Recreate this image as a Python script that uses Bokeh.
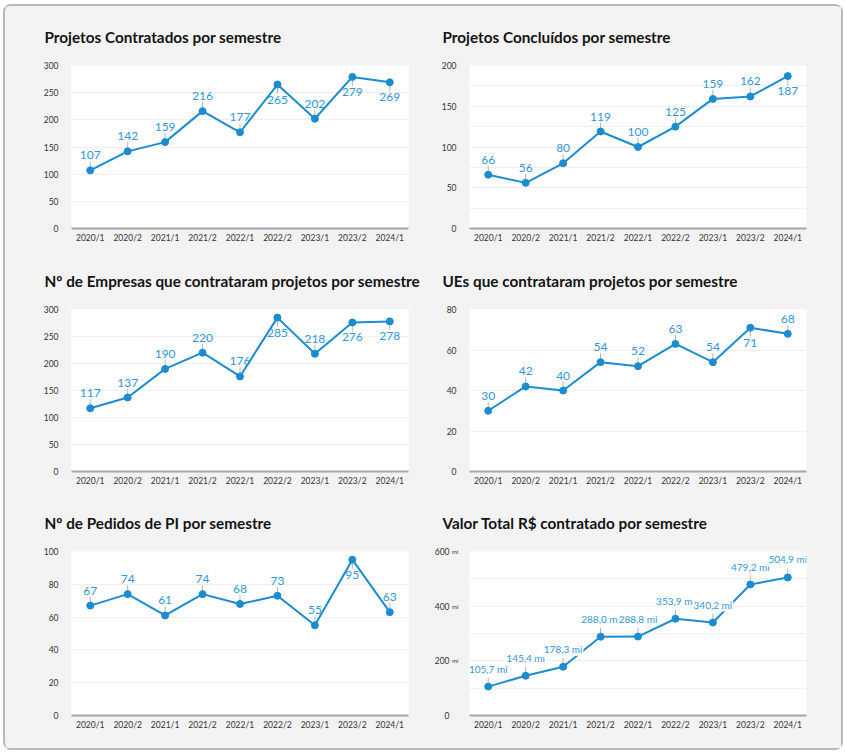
from bokeh.plotting import figure
from bokeh.layouts import column, row
from bokeh.models import Range1d, FactorRange, SingleIntervalTicker, LinearAxis, ColumnDataSource
from bokeh.core.properties import value
from bokeh.embed import file_html
from bokeh.resources import INLINE

# ---------------- data ----------------
semesters = ["2020/1", "2020/2", "2021/1", "2021/2", "2022/1", "2022/2", "2023/1", "2023/2", "2024/1"]
projetos_contratados = [107, 142, 159, 216, 177, 265, 202, 279, 269]
projetos_concluidos = [66, 56, 80, 119, 100, 125, 159, 162, 187]
empresas_contrataram = [117, 137, 190, 220, 176, 285, 218, 276, 278]
ues_contrataram = [30, 42, 40, 54, 52, 63, 54, 71, 68]
pedidos_pi = [67, 74, 61, 74, 68, 73, 55, 95, 63]
valor_total_mi = [105.7, 145.4, 178.3, 288.0, 288.8, 353.9, 340.2, 479.2, 504.9]

titles = [
    "Projetos Contratados por semestre",
    "Projetos Concluídos por semestre",
    "Nº de Empresas que contrataram projetos por semestre",
    "UEs que contrataram projetos por semestre",
    "Nº de Pedidos de PI por semestre",
    "Valor Total R$ contratado por semestre",
]

# ---------------- style ----------------
FONT = "Lato"
LINE_C = "#1a8ccf"
LABEL_C = "#3197d6"
BG = "#f3f3f3"

COLS = [dict(width=421, left=66, right=18), dict(width=415, left=43, right=35)]
ROWS = [dict(height=244, top=59, bottom=22), dict(height=240, top=58, bottom=19),
        dict(height=258, top=61, bottom=33)]


def make_chart(title, vals, labels, ymax, label_step, grid_step, below, ci, ri,
               lab_size="12px", lab_bg=None, lab_off=15, mi_axis=False):
    c, r = COLS[ci], ROWS[ri]
    p = figure(x_range=FactorRange(*semesters, range_padding=0), y_range=Range1d(0, ymax),
               width=c["width"], height=r["height"], output_backend="svg", toolbar_location=None,
               min_border_left=c["left"], min_border_right=c["right"],
               min_border_top=r["top"], min_border_bottom=r["bottom"],
               background_fill_color="white", border_fill_color=BG, outline_line_color=None)
    p.title.text = title
    p.title.text_font = FONT
    p.title.text_font_size = "15.3px"
    p.title.text_font_style = "bold"
    p.title.text_color = "#141414"
    p.title.align = "left"
    p.title.offset = -27
    p.title.standoff = 39

    frame_h = r["height"] - r["top"] - r["bottom"]
    upp = ymax / frame_h  # data units per pixel

    ys_lab_off = [lab_off if b else -lab_off for b in below]
    seg_y0 = [v - 3 * upp if b else v + 3 * upp for v, b in zip(vals, below)]
    seg_y1 = [v - 9 * upp if b else v + 9 * upp for v, b in zip(vals, below)]
    src = ColumnDataSource(dict(x=semesters, y=vals, lab=labels, yoff=ys_lab_off,
                                sy0=seg_y0, sy1=seg_y1))

    p.segment(x0="x", y0="sy0", x1="x", y1="sy1", source=src, line_color="#b5b5b5", line_width=1)
    p.line(x="x", y="y", source=src, line_color=LINE_C, line_width=2)
    p.scatter(x="x", y="y", source=src, size=7, fill_color=LINE_C, line_color=LINE_C)
    kw = {}
    if lab_bg:
        kw = dict(background_fill_color=lab_bg, padding=1)
    p.text(x="x", y="y", text="lab", source=src, y_offset="yoff", text_align="center",
           text_baseline="middle", text_color=LABEL_C, text_font=value(FONT),
           text_font_size=lab_size, **kw)

    p.xgrid.visible = False
    p.ygrid[0].ticker = SingleIntervalTicker(interval=grid_step)
    p.ygrid[0].grid_line_color = "#efefef"

    xa = p.xaxis[0]
    xa.axis_line_color = "#a6a6a6"
    xa.axis_line_width = 2
    xa.major_tick_line_color = None
    xa.minor_tick_line_color = None
    xa.major_tick_out = 0
    xa.major_tick_in = 0
    xa.major_label_standoff = 4
    xa.major_label_text_font = FONT
    xa.major_label_text_font_size = "8.5px"
    xa.major_label_text_color = "#333333"

    ya = p.yaxis[0]
    ya.ticker = SingleIntervalTicker(interval=label_step)
    ya.axis_line_color = None
    ya.major_tick_line_color = None
    ya.minor_tick_line_color = None
    ya.major_tick_out = 0
    ya.major_tick_in = 0
    ya.major_label_text_font = FONT
    ya.major_label_text_color = "#333333"
    if mi_axis:
        ticks = list(range(0, ymax + 1, label_step))
        ya.major_label_overrides = {t: ("mi" if t else "") for t in ticks}
        ya.major_label_text_font_size = "6px"
        ya.major_label_standoff = 7
        outer = LinearAxis(ticker=SingleIntervalTicker(interval=label_step),
                           axis_line_color=None, major_tick_line_color=None,
                           minor_tick_line_color=None, major_tick_out=0, major_tick_in=0,
                           major_label_standoff=-4,
                           major_label_text_font=FONT, major_label_text_font_size="8.5px",
                           major_label_text_color="#333333")
        p.add_layout(outer, "left")
    else:
        ya.major_label_text_font_size = "8.5px"
        ya.major_label_standoff = 9
    return p


def lbl(vals):
    return [str(v) for v in vals]


p1 = make_chart(titles[0], projetos_contratados, lbl(projetos_contratados), 300, 50, 50,
                [False, False, False, False, False, True, False, True, True], 0, 0)
p2 = make_chart(titles[1], projetos_concluidos, lbl(projetos_concluidos), 200, 50, 25,
                [False] * 8 + [True], 1, 0)
p3 = make_chart(titles[2], empresas_contrataram, lbl(empresas_contrataram), 300, 50, 50,
                [False, False, False, False, False, True, False, True, True], 0, 1)
p4 = make_chart(titles[3], ues_contrataram, lbl(ues_contrataram), 80, 20, 20,
                [False] * 7 + [True, False], 1, 1)
p5 = make_chart(titles[4], pedidos_pi, lbl(pedidos_pi), 100, 20, 20,
                [False] * 7 + [True, False], 0, 2)
valor_labels = [f"{v:.1f}".replace(".", ",") + " mi" for v in valor_total_mi]
p6 = make_chart(titles[5], valor_total_mi, valor_labels, 600, 200, 100,
                [False] * 9, 1, 2, lab_size="10px", lab_bg="white", lab_off=18, mi_axis=True)

layout = column(row(p1, p2), row(p3, p4), row(p5, p6),
                styles={"background-color": BG, "border": "2px solid #b9b9b9",
                        "border-radius": "8px", "margin-left": "3px", "margin-top": "4px"})

open("out.html", "w").write(file_html(layout, INLINE))
